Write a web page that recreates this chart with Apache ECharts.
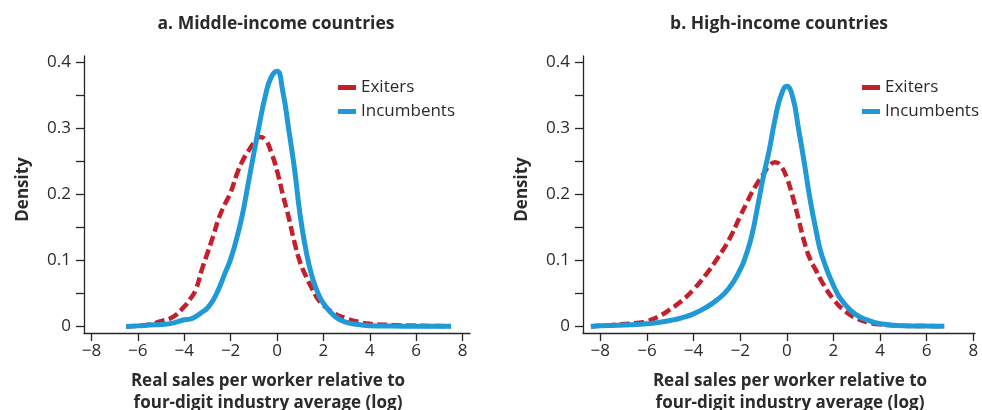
<!DOCTYPE html>
<html>
<head>
<meta charset="utf-8">
<script src="https://cdn.jsdelivr.net/npm/echarts@6/dist/echarts.min.js"></script>
<style>
  html, body { margin: 0; padding: 0; background: #fff; }
  #chart { width: 982px; height: 410px; }
</style>
</head>
<body>
<div id="chart"></div>
<script>
// ---- Data ----
const panelTitles = ['a. Middle-income countries', 'b. High-income countries'];
const seriesNames = ['Exiters', 'Incumbents'];
const xAxisTitle = 'Real sales per worker relative to\nfour-digit industry average (log)';
const yAxisTitle = 'Density';
const xTickValues = [-8, -6, -4, -2, 0, 2, 4, 6, 8];
const yLabelValues = [0, 0.1, 0.2, 0.3, 0.4];
const yTickValues = [0, 0.05, 0.1, 0.15, 0.2, 0.25, 0.3, 0.35, 0.4];

// Panel a: middle-income countries
const midX = [-6.5, -6, -5.5, -5, -4.5, -4, -3.75, -3.5, -3.25, -3, -2.75, -2.5, -2.25, -2, -1.75, -1.5, -1.25, -1, -0.75, -0.5, -0.25, 0, 0.25, 0.5, 0.75, 1, 1.25, 1.5, 1.75, 2, 2.5, 3, 3.5, 4, 5, 6, 7, 7.5];
const midExiters = [0, 0.001, 0.003, 0.008, 0.014, 0.030, 0.041, 0.056, 0.085, 0.111, 0.137, 0.165, 0.185, 0.203, 0.229, 0.250, 0.265, 0.278, 0.287, 0.283, 0.264, 0.236, 0.200, 0.166, 0.128, 0.097, 0.076, 0.058, 0.042, 0.032, 0.019, 0.012, 0.007, 0.004, 0.002, 0.001, 0.0005, 0];
const midIncumbents = [0, 0.0008, 0.002, 0.003, 0.005, 0.010, 0.011, 0.015, 0.021, 0.028, 0.040, 0.058, 0.080, 0.102, 0.132, 0.168, 0.215, 0.262, 0.308, 0.350, 0.378, 0.387, 0.356, 0.300, 0.240, 0.168, 0.115, 0.077, 0.052, 0.035, 0.015, 0.006, 0.003, 0.001, 0.0005, 0.0003, 0.0002, 0.0001];

// Panel b: high-income countries
const highX = [-8.4, -8, -7.5, -7, -6.5, -6, -5.5, -5, -4.5, -4, -3.5, -3, -2.5, -2, -1.75, -1.5, -1.25, -1, -0.75, -0.5, -0.25, 0, 0.25, 0.5, 0.75, 1, 1.25, 1.5, 2, 2.5, 3, 3.5, 4, 5, 6, 6.75];
const highExiters = [0, 0.001, 0.002, 0.0035, 0.005, 0.008, 0.015, 0.026, 0.039, 0.056, 0.077, 0.102, 0.130, 0.167, 0.185, 0.203, 0.218, 0.231, 0.244, 0.249, 0.243, 0.225, 0.197, 0.163, 0.128, 0.102, 0.085, 0.068, 0.041, 0.023, 0.012, 0.006, 0.003, 0.001, 0.0005, 0];
const highIncumbents = [0, 0.001, 0.0015, 0.002, 0.003, 0.004, 0.006, 0.009, 0.013, 0.019, 0.028, 0.040, 0.057, 0.086, 0.108, 0.138, 0.182, 0.228, 0.268, 0.315, 0.350, 0.364, 0.348, 0.300, 0.248, 0.192, 0.146, 0.108, 0.062, 0.033, 0.017, 0.009, 0.004, 0.001, 0.0005, 0.0003];

// ---- Styling ----
const RED = '#c4202c';
const BLUE = '#1f9ad6';
const FONT = '"Open Sans", Lato, sans-serif';
const TEXT = '#2b2b2b';
const AXIS = '#262626';

function zip(xs, ys) { return xs.map((x, i) => [x, ys[i]]); }
function fmtX(v) { return v < 0 ? '\u2212' + Math.abs(v) : String(v); }
function fmtY(v) { return v === 0 ? '0' : v.toFixed(1); }

const chart = echarts.init(document.getElementById('chart'), null, { renderer: 'canvas' });

function makeXAxis(gridIndex, min, max, padding) {
  return {
    type: 'value', gridIndex, min, max,
    axisLine: { show: true, onZero: false, lineStyle: { color: AXIS, width: 1.3 } },
    axisTick: { show: true, length: 8, customValues: xTickValues, lineStyle: { color: AXIS, width: 1.3 } },
    axisLabel: { customValues: xTickValues, formatter: fmtX, margin: 10, fontFamily: FONT, fontSize: 17, color: TEXT },
    splitLine: { show: false },
    name: xAxisTitle, nameLocation: 'middle', nameGap: 37,
    nameTextStyle: { fontFamily: FONT, fontWeight: 'bold', fontSize: 17, lineHeight: 22, color: TEXT, padding }
  };
}
function makeYAxis(gridIndex) {
  return {
    type: 'value', gridIndex, min: -0.01, max: 0.41,
    axisLine: { show: true, onZero: false, lineStyle: { color: AXIS, width: 1.3 } },
    axisTick: { show: true, length: 8, customValues: yTickValues, lineStyle: { color: AXIS, width: 1.3 } },
    axisLabel: { customValues: yLabelValues, formatter: fmtY, margin: 13, fontFamily: FONT, fontSize: 17, color: TEXT },
    splitLine: { show: false },
    name: yAxisTitle, nameLocation: 'middle', nameGap: 52, nameRotate: 90,
    nameTextStyle: { fontFamily: FONT, fontWeight: 'bold', fontSize: 17, color: TEXT, padding: [0, 0, 0, 10] }
  };
}
function makeLine(name, xi, data, color, dashed) {
  return {
    name, type: 'line', xAxisIndex: xi, yAxisIndex: xi, data,
    showSymbol: false, smooth: 0.5,
    lineStyle: { color, width: dashed ? 4.5 : 5, type: dashed ? [10, 4.5] : 'solid', cap: 'butt' },
    itemStyle: { color },
    silent: true, animation: false
  };
}
function makeLegend(left) {
  return {
    left, top: 79, orient: 'vertical', icon: 'rect', itemWidth: 18, itemHeight: 5,
    itemGap: 7, padding: 0, data: seriesNames,
    textStyle: { fontFamily: FONT, fontSize: 17, lineHeight: 17, color: TEXT }
  };
}

chart.setOption({
  backgroundColor: '#ffffff',
  animation: false,
  title: [
    { text: panelTitles[0], left: 276, top: 15, textAlign: 'center', padding: 0,
      textStyle: { fontFamily: FONT, fontWeight: 'bold', fontSize: 17.5, color: TEXT } },
    { text: panelTitles[1], left: 779, top: 15, textAlign: 'center', padding: 0,
      textStyle: { fontFamily: FONT, fontWeight: 'bold', fontSize: 17.5, color: TEXT } }
  ],
  legend: [makeLegend(338), makeLegend(862)],
  grid: [
    { left: 84, right: 512, top: 56, bottom: 77, containLabel: false, outerBoundsMode: 'none' },
    { left: 583, right: 7, top: 56, bottom: 77, containLabel: false, outerBoundsMode: 'none' }
  ],
  xAxis: [makeXAxis(0, -8.32, 8.32, [0, 18, 0, 0]), makeXAxis(1, -8.74, 8.07, [0, 0, 0, 22])],
  yAxis: [makeYAxis(0), makeYAxis(1)],
  series: [
    makeLine(seriesNames[0], 0, zip(midX, midExiters), RED, true),
    makeLine(seriesNames[1], 0, zip(midX, midIncumbents), BLUE, false),
    makeLine(seriesNames[0], 1, zip(highX, highExiters), RED, true),
    makeLine(seriesNames[1], 1, zip(highX, highIncumbents), BLUE, false)
  ]
});
</script>
</body>
</html>
